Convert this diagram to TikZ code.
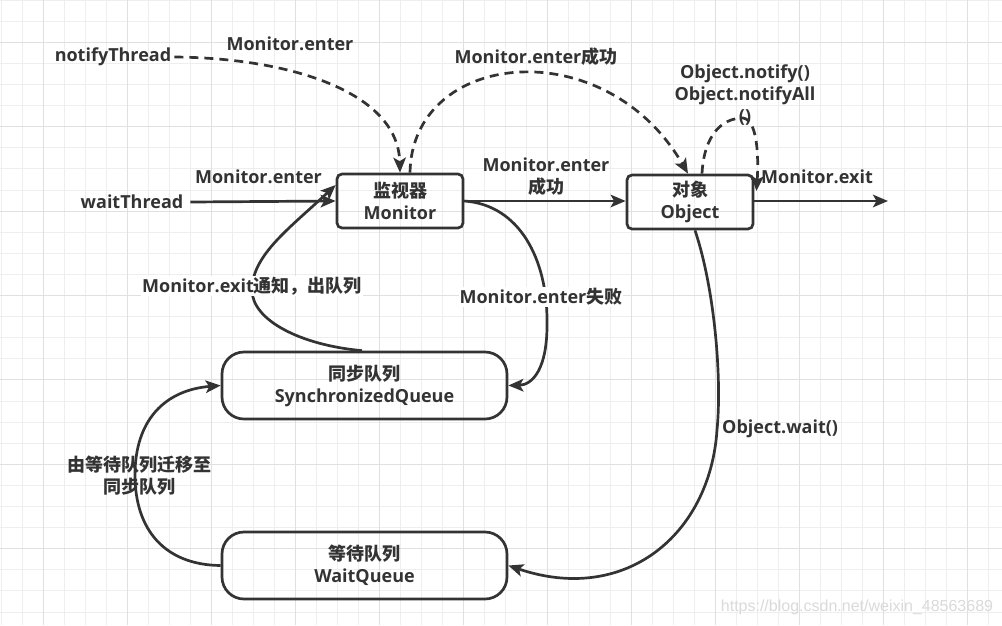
\documentclass[tikz,border=0pt]{standalone}
\usepackage{fontspec}
\setmainfont{Open Sans}
\newfontfamily\cjk{Noto Sans CJK SC}
\newfontfamily\wmfont{Liberation Sans}
\usetikzlibrary{arrows.meta}
\definecolor{ink}{HTML}{333333}
\definecolor{gridminor}{HTML}{EEEEEE}
\definecolor{gridmajor}{HTML}{E0E0E0}
\definecolor{wmgray}{HTML}{DADADA}
\begin{document}
\begin{tikzpicture}[x=1pt,y=-1pt,
  every node/.style={font=\fontsize{18}{22}\selectfont\bfseries, text=ink, inner sep=0pt},
  box/.style={draw=ink, line width=2.7pt, rounded corners=5pt, minimum width=126pt, minimum height=54pt, align=center},
  queue/.style={draw=ink, line width=2.7pt, rounded corners=22pt, minimum width=285pt, minimum height=67pt, align=center},
  conn/.style={draw=ink, line width=2.7pt, -{Stealth[length=15pt,width=12.5pt,inset=3.5pt]}},
  dconn/.style={conn, dash pattern=on 9pt off 6pt},
  lbl/.style={align=center},
  wlbl/.style={align=center, fill=white, inner sep=1pt}
]
\useasboundingbox (0,0) rectangle (1002,625);
\fill[white] (0,0) rectangle (1002,625);
\begin{scope}
\clip (0,0) rectangle (1002,625);
\foreach \i in {0,...,48} \draw[gridminor, line width=1pt] ({1+21*\i},0) -- ({1+21*\i},625);
\foreach \j in {0,...,30} \draw[gridminor, line width=1pt] (0,{0.1+21.1*\j}) -- (1002,{0.1+21.1*\j});
\foreach \i in {0,...,11} \draw[gridmajor, line width=1pt] ({43+84*\i},0) -- ({43+84*\i},625);
\foreach \j in {0,...,7} \draw[gridmajor, line width=1pt] (0,{42.3+84.4*\j}) -- (1002,{42.3+84.4*\j});
\end{scope}

% nodes
\node[box] (mon) at (400,201) {{\cjk 监视器}\\Monitor};
\node[box] (obj) at (690,202) {{\cjk 对象}\\Object};
\node[queue] (sq) at (364.5,385.5) {{\cjk 同步队列}\\SynchronizedQueue};
\node[queue] (wq) at (364.5,565.5) {{\cjk 等待队列}\\WaitQueue};
\node[inner sep=3pt] (nt) at (113,57) {notifyThread};
\node[inner sep=3pt] (wt) at (132,202) {waitThread};
\coordinate (ex) at (888,201);

% connectors
\draw[dconn] (nt.east) .. controls (290,58) and (398,92) .. (mon.north);
\draw[dconn] ([xshift=10pt]mon.north) .. controls (412,50) and (605,30) .. ([xshift=-2pt]obj.north);
\draw[conn] ([xshift=4pt]wt.east) -- (mon.west);
\draw[conn] (mon.east) -- (obj.west |- mon.east);
\draw[conn] (obj.east |- ex) -- (ex);
\draw[dconn] ([xshift=12pt]obj.north) .. controls (704,135) and (722,118) .. (743,118) .. controls (760,120) and (758,170) .. ([xshift=2pt,yshift=11pt]obj.east);
\draw[conn] (mon.east) .. controls (520,205) and (547,260) .. (547,320) .. controls (548,370) and (532,385) .. (sq.east);
\draw[conn] ([xshift=-2.5pt]sq.north) .. controls (300,345) and (252,320) .. (252,290) .. controls (252,255) and (290,228) .. ([yshift=16pt]mon.west);
\draw[conn] ([xshift=5pt]obj.south) .. controls (715,290) and (722,380) .. (717,430) .. controls (710,535) and (625,605) .. (wq.east);
\draw[conn] (wq.west) .. controls (165,565) and (135,530) .. (135,475) .. controls (135,420) and (165,390) .. (sq.west);

% labels
\node[lbl] (l1) at (290,44) {Monitor.enter};
\node[lbl] (l2) at (536,57) {Monitor.enter{\cjk 成功}};
\node[lbl] (l3) at (745,95) {Object.notify()\\Object.notifyAll\\()};
\node[lbl] (l4) at (258.5,177) {Monitor.enter};
\node[lbl] (l5) at (546,177) {Monitor.enter\\{\cjk 成功}};
\node[lbl] (l6) at (817,177) {Monitor.exit};
\node[wlbl] (l7) at (252,286) {Monitor.exit{\cjk 通知，出队列}};
\node[wlbl] (l8) at (541,297) {Monitor.enter{\cjk 失败}};
\node[lbl, anchor=west] (l9) at (722,429) {Object.wait()};
\node[lbl] (l10) at (139,476) {{\cjk 由等待队列迁移至}\\{\cjk 同步队列}};
\node[font=\wmfont\fontsize{16}{18}\selectfont, text=wmgray] (wm) at (857,607) {https://blog.csdn.net/weixin\_48563689};
\end{tikzpicture}
\end{document}
